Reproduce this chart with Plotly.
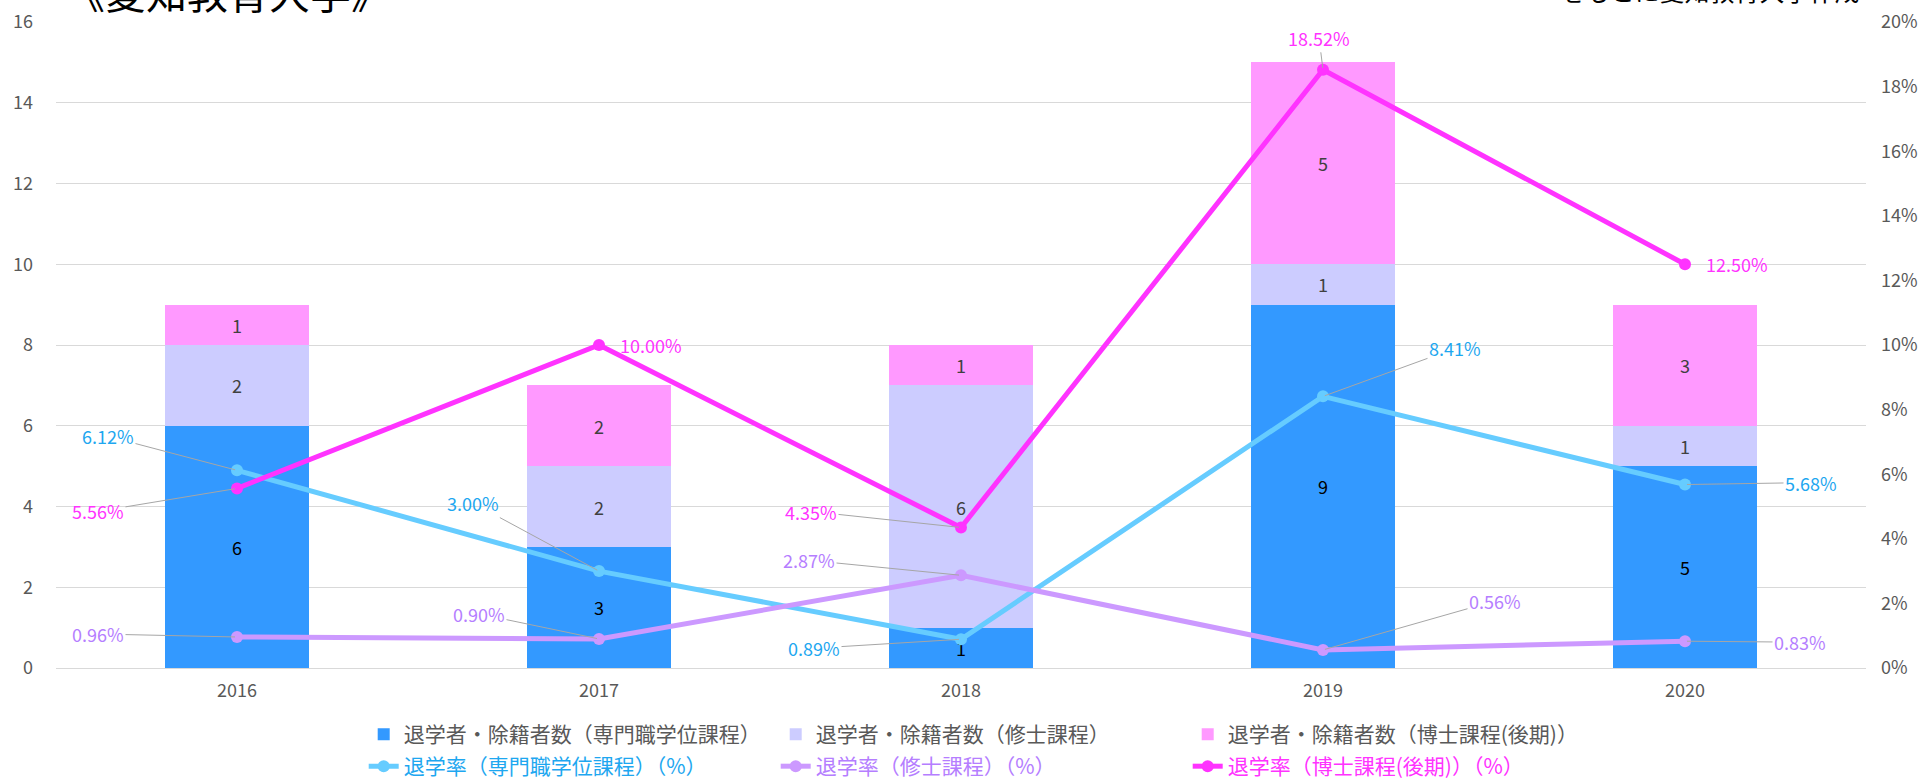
import plotly.graph_objects as go

years = ["2016", "2017", "2018", "2019", "2020"]
# counts (退学者・除籍者数)
cnt_pro = [6, 3, 1, 9, 5]      # 専門職学位課程
cnt_mst = [2, 2, 6, 1, 1]      # 修士課程
cnt_doc = [1, 2, 1, 5, 3]      # 博士課程(後期)
# rates in percent (退学率)
rate_pro = [6.12, 3.00, 0.89, 8.41, 5.68]
rate_mst = [0.96, 0.90, 2.87, 0.56, 0.83]
rate_doc = [5.56, 10.00, 4.35, 18.52, 12.50]

names_bar = ["退学者・除籍者数（専門職学位課程）", "退学者・除籍者数（修士課程）", "退学者・除籍者数（博士課程(後期)）"]
names_line = ["退学率（専門職学位課程）（%）", "退学率（修士課程）（%）", "退学率（博士課程(後期)）（%）"]

FONT = "Noto Sans CJK JP"
C_PRO, C_MST, C_DOC = "#3399FF", "#CCCCFF", "#FF99FF"
L_PRO, L_MST, L_DOC = "#66CCFF", "#CC99FF", "#FF33FF"
T_PRO, T_MST, T_DOC = "#1EA7F0", "#B57EFF", "#FF33FF"
GRAY = "#595959"

fig = go.Figure()
for vals, name, col, tcol in [(cnt_pro, names_bar[0], C_PRO, "#000000"),
                              (cnt_mst, names_bar[1], C_MST, "#404040"),
                              (cnt_doc, names_bar[2], C_DOC, "#404040")]:
    fig.add_trace(go.Bar(x=years, y=vals, name=name, marker=dict(color=col, line=dict(width=0)),
                         text=vals, textposition="inside", insidetextanchor="middle",
                         textangle=0, constraintext="none",
                         textfont=dict(family=FONT, size=18, color=tcol), legend="legend"))

for vals, name, lc, tc in [(rate_pro, names_line[0], L_PRO, T_PRO),
                           (rate_mst, names_line[1], L_MST, T_MST),
                           (rate_doc, names_line[2], L_DOC, T_DOC)]:
    fig.add_trace(go.Scatter(x=years, y=vals, yaxis="y2", mode="lines+markers",
                             name=f"<span style='color:{tc}'>{name}</span>",
                             line=dict(color=lc, width=5), marker=dict(color=lc, size=12),
                             legend="legend2"))

# label offsets in pixels (dx, dy) from each point
offs_pro = [(-129, -34), (-126, -68), (-147, 9), (132, -48), (126, -2)]
offs_mst = [(-139, -3), (-120, -25), (-152, -15), (172, -49), (115, 1)]
offs_doc = [(-139, 23), (52, 0), (-150, -16), (-4, -32), (52, 0)]

for vals, offs, tc in [(rate_pro, offs_pro, T_PRO), (rate_mst, offs_mst, T_MST), (rate_doc, offs_doc, T_DOC)]:
    for i, (v, (dx, dy)) in enumerate(zip(vals, offs)):
        txt = f"{v:.2f}%"
        if abs(dx) < 60 and abs(dy) < 5:
            fig.add_annotation(x=i, y=v, xref="x", yref="y2", text=txt, showarrow=False,
                               xanchor="center", xshift=dx, yshift=-dy,
                               font=dict(family=FONT, size=18, color=tc))
        else:
            fig.add_annotation(x=i, y=v, xref="x", yref="y2", text=txt, showarrow=True,
                               arrowhead=0, arrowwidth=1, arrowcolor="#A6A6A6",
                               ax=dx, ay=dy, standoff=2,
                               font=dict(family=FONT, size=18, color=tc))

fig.add_annotation(text="《愛知教育大学》", xref="paper", yref="paper", x=0.0035, y=0.998,
                   xanchor="left", yanchor="bottom", showarrow=False,
                   font=dict(family=FONT, size=41, color="#000000"))
fig.add_annotation(text="をもとに愛知教育大学作成", xref="paper", yref="paper", x=0.9978, y=1.019,
                   xanchor="right", yanchor="bottom", showarrow=False,
                   font=dict(family=FONT, size=25, color="#000000"))

fig.update_layout(
    width=1926, height=779,
    margin=dict(l=56, r=60, t=22, b=111, autoexpand=False),
    paper_bgcolor="white", plot_bgcolor="white",
    barmode="stack", bargap=0.6,
    font=dict(family=FONT, size=16, color=GRAY),
    showlegend=True,
    xaxis=dict(type="category", showline=True, linecolor="#D9D9D9", linewidth=1,
               ticks="", tickfont=dict(family=FONT, size=18, color=GRAY), ticklabelstandoff=6),
    yaxis=dict(range=[0, 16], dtick=2, showgrid=True, gridcolor="#D9D9D9", gridwidth=1,
               zeroline=False, tickfont=dict(family=FONT, size=18, color=GRAY), ticklabelstandoff=22),
    yaxis2=dict(range=[0, 20], dtick=2, ticksuffix="%", overlaying="y", side="right",
                showgrid=False, zeroline=False, tickfont=dict(family=FONT, size=18, color=GRAY),
                ticklabelstandoff=14),
    legend=dict(orientation="h", x=0.170, xanchor="left", yref="container", y=0.057, yanchor="middle",
                entrywidth=367, entrywidthmode="pixels", traceorder="normal",
                font=dict(family=FONT, size=21, color=GRAY), bgcolor="rgba(0,0,0,0)"),
    legend2=dict(orientation="h", x=0.170, xanchor="left", yref="container", y=0.016, yanchor="middle",
                 entrywidth=367, entrywidthmode="pixels", traceorder="normal",
                 font=dict(family=FONT, size=21, color=GRAY), bgcolor="rgba(0,0,0,0)"),
)

fig.write_html("out.html", config={"displayModeBar": False},
               post_script="document.body.style.margin='0';")
